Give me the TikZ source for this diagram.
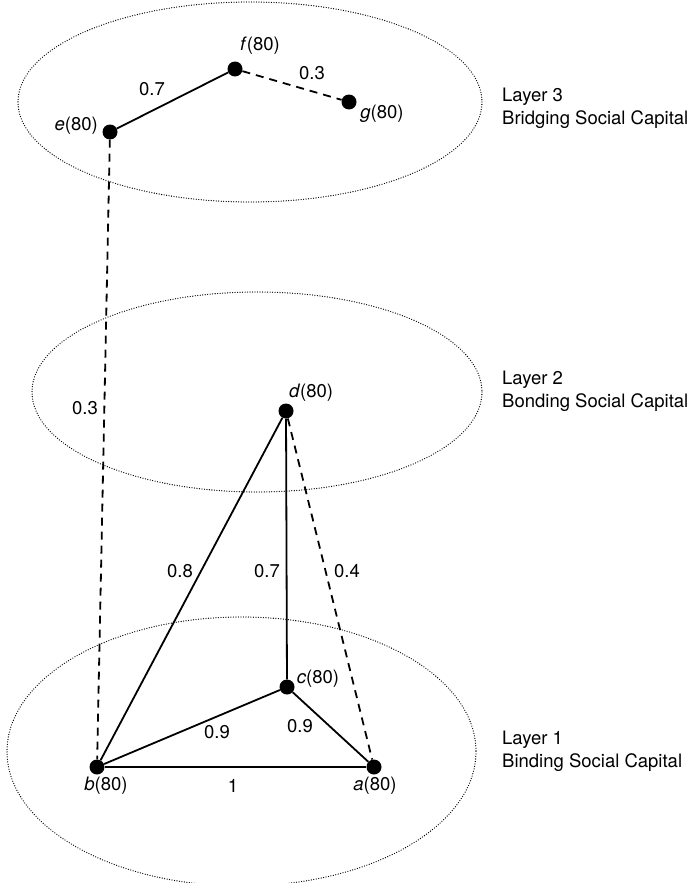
\documentclass[tikz,border=0pt]{standalone}
\usepackage{fontspec}
\setmainfont{TeX Gyre Heros}
\begin{document}
\begin{tikzpicture}[x=1pt,y=-1pt,
  vertex/.style={circle,fill=black,inner sep=0pt,minimum size=15pt},
  lbl/.style={inner sep=0pt,font=\fontsize{18.5}{23}\selectfont},
  layertext/.style={lbl,anchor=west,align=left},
  tie/.style={line width=1.8pt},
  weaktie/.style={line width=1.8pt,dash pattern=on 8pt off 6pt},
  layer/.style={line width=1.3pt,line cap=round,dash pattern=on 0pt off 2.5pt}]
\useasboundingbox (0,0) rectangle (690,883);
\clip (0,0) rectangle (690,883);

% layer planes
\draw[layer] (250,102) ellipse [x radius=232, y radius=100];
\draw[layer] (257,392) ellipse [x radius=225, y radius=100];
\draw[layer] (241.5,751.5) ellipse [x radius=234.5, y radius=134.5];

% actors
\node[vertex] (e) at (110,132) {};
\node[vertex] (f) at (235,69) {};
\node[vertex] (g) at (349,102) {};
\node[vertex] (d) at (286,411) {};
\node[vertex] (c) at (287,687) {};
\node[vertex] (b) at (97,767) {};
\node[vertex] (a) at (374,767) {};

% ties
\draw[tie] (e) -- (f);
\draw[weaktie] (f) -- (g);
\draw[weaktie] (e) -- (b);
\draw[tie] (d) -- (b);
\draw[tie] (d) -- (c);
\draw[weaktie] (d) -- (a);
\draw[tie] (c) -- (b);
\draw[tie] (c) -- (a);
\draw[tie] (b) -- (a);

% actor labels
\node[lbl,anchor=east] (le) at (98,126) {\textit{e}(80)};
\node[lbl] (lf) at (260,46) {\textit{f}(80)};
\node[lbl] (lg) at (382,114) {\textit{g}(80)};
\node[lbl] (ld) at (311,393) {\textit{d}(80)};
\node[lbl] (lc) at (318,679) {\textit{c}(80)};
\node[lbl] (lb) at (106,786) {\textit{b}(80)};
\node[lbl] (la) at (375,786) {\textit{a}(80)};

% tie weights
\node[lbl] (wef) at (152,89) {0.7};
\node[lbl] (wfg) at (312,73) {0.3};
\node[lbl] (web) at (85,408) {0.3};
\node[lbl] (wdb) at (180,571) {0.8};
\node[lbl] (wdc) at (267,571) {0.7};
\node[lbl] (wda) at (347,571) {0.4};
\node[lbl] (wcb) at (217,732) {0.9};
\node[lbl] (wca) at (300,726) {0.9};
\node[lbl] (wba) at (233,786) {1};

% layer captions
\node[layertext] (l3) at (502,108.5) {Layer 3\\Bridging Social Capital};
\node[layertext] (l2) at (502,391.5) {Layer 2\\Bonding Social Capital};
\node[layertext] (l1) at (502,751.5) {Layer 1\\Binding Social Capital};
\end{tikzpicture}
\end{document}
